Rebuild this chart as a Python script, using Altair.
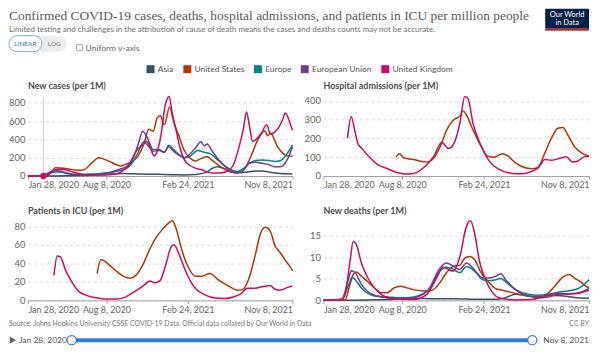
import altair as alt
import pandas as pd

SERIES = ["Asia", "United States", "Europe", "European Union", "United Kingdom"]
COLORS = ["#3c4e66", "#b13507", "#00847e", "#6d3e91", "#cf0a66"]

# ---------------- New cases (per 1M) ----------------
cases_asia_d = ["2020-01-28","2020-02-10","2020-03-01","2020-04-01","2020-05-01","2020-06-01","2020-07-01","2020-08-01","2020-09-15","2020-10-15","2020-11-15","2020-12-15","2021-01-15","2021-02-15","2021-03-15","2021-04-10","2021-04-25","2021-05-08","2021-05-25","2021-06-10","2021-07-01","2021-07-20","2021-08-10","2021-08-25","2021-09-10","2021-10-01","2021-10-20","2021-11-08"]
cases_asia_v = [0.2,0.5,0.3,1,2.5,5,10,16,28,24,20,18,15,12,17,40,85,102,80,45,35,45,55,55,45,30,24,22]

cases_us_d = ["2020-01-28","2020-03-01","2020-03-15","2020-03-25","2020-04-05","2020-04-15","2020-04-25","2020-05-10","2020-05-25","2020-06-08","2020-06-20","2020-07-01","2020-07-12","2020-07-20","2020-08-01","2020-08-15","2020-09-01","2020-09-12","2020-09-25","2020-10-10","2020-10-25","2020-11-08","2020-11-20","2020-12-01","2020-12-10","2020-12-18","2020-12-28","2021-01-10","2021-01-20","2021-02-01","2021-02-14","2021-02-28","2021-03-15","2021-03-28","2021-04-12","2021-04-25","2021-05-10","2021-05-25","2021-06-10","2021-06-22","2021-07-05","2021-07-20","2021-08-01","2021-08-15","2021-09-01","2021-09-08","2021-09-15","2021-10-01","2021-10-15","2021-10-25","2021-11-08"]
cases_us_v = [0,0,5,40,90,88,85,75,66,62,85,135,180,200,185,160,125,110,130,155,220,350,510,490,630,660,560,755,590,450,290,200,165,190,210,170,120,75,43,35,45,130,250,400,495,440,470,330,250,220,215]

cases_eur_d = ["2020-01-28","2020-02-25","2020-03-10","2020-03-25","2020-04-05","2020-04-20","2020-05-05","2020-05-25","2020-06-15","2020-07-01","2020-07-20","2020-08-10","2020-08-25","2020-09-10","2020-09-25","2020-10-10","2020-10-25","2020-11-07","2020-11-20","2020-12-01","2020-12-15","2020-12-28","2021-01-08","2021-01-20","2021-02-01","2021-02-15","2021-03-01","2021-03-20","2021-04-05","2021-04-20","2021-05-05","2021-05-20","2021-06-05","2021-06-25","2021-07-10","2021-07-25","2021-08-10","2021-08-25","2021-09-10","2021-09-25","2021-10-10","2021-10-25","2021-11-08"]
cases_eur_v = [0,0.5,5,35,45,40,25,18,20,22,25,35,45,60,80,140,260,375,320,270,280,260,335,290,240,200,215,280,260,245,190,130,80,50,80,140,170,175,170,160,170,240,340]

cases_eu_d = ["2020-01-28","2020-03-05","2020-03-20","2020-04-01","2020-04-15","2020-05-01","2020-05-20","2020-06-15","2020-07-10","2020-07-25","2020-08-10","2020-08-25","2020-09-10","2020-09-25","2020-10-10","2020-10-25","2020-11-05","2020-11-15","2020-12-01","2020-12-15","2020-12-28","2021-01-08","2021-01-20","2021-02-01","2021-02-15","2021-03-01","2021-03-15","2021-03-28","2021-04-05","2021-04-12","2021-04-25","2021-05-10","2021-05-25","2021-06-10","2021-06-25","2021-07-10","2021-07-25","2021-08-10","2021-08-25","2021-09-10","2021-09-25","2021-10-10","2021-10-25","2021-11-08"]
cases_eu_v = [0,2,40,60,55,35,18,10,12,20,35,50,75,100,170,350,490,430,290,290,260,320,270,230,200,240,310,375,330,350,270,180,110,55,35,60,140,150,140,125,100,100,170,320]

cases_uk_d = ["2020-01-28","2020-03-01","2020-03-15","2020-03-28","2020-04-10","2020-04-25","2020-05-10","2020-05-25","2020-06-10","2020-06-25","2020-07-15","2020-08-01","2020-08-15","2020-09-01","2020-09-15","2020-09-30","2020-10-15","2020-10-25","2020-11-05","2020-11-14","2020-11-22","2020-12-03","2020-12-12","2020-12-20","2020-12-30","2021-01-09","2021-01-16","2021-01-25","2021-02-05","2021-02-15","2021-03-01","2021-03-15","2021-04-01","2021-04-15","2021-05-01","2021-05-15","2021-06-01","2021-06-15","2021-07-01","2021-07-10","2021-07-18","2021-07-25","2021-08-02","2021-08-15","2021-08-25","2021-09-05","2021-09-15","2021-09-25","2021-10-05","2021-10-15","2021-10-21","2021-10-28","2021-11-03","2021-11-08"]
cases_uk_v = [0,0.2,6,50,75,70,55,35,18,12,10,11,15,22,50,110,230,300,340,380,330,220,290,450,770,870,700,520,300,180,115,85,65,40,32,34,55,115,340,510,700,550,380,420,480,560,460,480,530,620,690,640,560,500]

# ---------------- Hospital admissions (per 1M) ----------------
hosp_us_d = ["2020-07-24","2020-08-01","2020-08-12","2020-09-05","2020-09-21","2020-10-07","2020-10-24","2020-11-09","2020-11-25","2020-12-11","2020-12-27","2021-01-04","2021-01-12","2021-01-28","2021-02-17","2021-03-05","2021-03-21","2021-04-10","2021-04-22","2021-05-12","2021-06-05","2021-06-25","2021-07-07","2021-07-23","2021-08-08","2021-08-24","2021-09-05","2021-09-17","2021-10-03","2021-10-19","2021-11-08"]
hosp_us_v = [102,119,96,88,79,74,96,158,246,298,319,347,325,246,158,105,100,119,109,70,44,39,49,123,202,254,258,219,158,126,105]

hosp_uk_d = ["2020-03-27","2020-04-05","2020-04-14","2020-04-22","2020-04-30","2020-05-16","2020-06-09","2020-07-03","2020-07-27","2020-08-12","2020-09-05","2020-09-29","2020-10-24","2020-11-13","2020-11-29","2020-12-11","2020-12-27","2021-01-08","2021-01-16","2021-01-28","2021-02-17","2021-03-09","2021-04-02","2021-05-04","2021-05-28","2021-06-21","2021-07-07","2021-07-23","2021-08-08","2021-09-01","2021-09-13","2021-09-29","2021-10-11","2021-10-27","2021-11-08"]
hosp_uk_v = [202,316,240,170,150,109,61,39,18,11,14,44,105,180,146,167,281,424,412,281,161,79,35,14,12,25,44,88,84,96,102,75,79,102,105]

# ---------------- Patients in ICU (per 1M) ----------------
icu_us_d = ["2020-07-16","2020-07-25","2020-08-02","2020-08-18","2020-09-03","2020-09-19","2020-10-05","2020-10-21","2020-11-06","2020-11-22","2020-12-08","2020-12-24","2021-01-09","2021-01-17","2021-01-25","2021-02-10","2021-02-26","2021-03-14","2021-03-30","2021-04-19","2021-05-09","2021-06-02","2021-06-26","2021-07-08","2021-07-24","2021-08-09","2021-08-21","2021-09-02","2021-09-14","2021-09-26","2021-10-08","2021-10-20","2021-11-01","2021-11-08"]
icu_us_v = [29,44,43,37,31,26,24,28,39,55,68,77,84,86,79,53,35,26,26,29,22.5,16,11,11.6,24,50,72,79,75,59,52,44,37,32]

icu_uk_d = ["2020-04-01","2020-04-09","2020-04-17","2020-04-29","2020-05-15","2020-05-31","2020-06-16","2020-07-10","2020-08-03","2020-09-04","2020-09-20","2020-10-14","2020-11-07","2020-11-23","2020-12-05","2020-12-17","2021-01-01","2021-01-13","2021-01-21","2021-02-02","2021-02-22","2021-03-14","2021-04-07","2021-05-01","2021-05-25","2021-06-18","2021-07-04","2021-07-20","2021-08-05","2021-08-29","2021-09-14","2021-09-26","2021-10-08","2021-10-24","2021-11-07"]
icu_uk_v = [27,48,47,33,20,10,6,3,1.5,1.5,3,9,16,21,19,21,39,57,60,50,28,13,6,2.5,2,4,7,13,13,15,16,12,11,13.5,15.6]

# ---------------- New deaths (per 1M) ----------------
deaths_asia_d = ["2020-01-28","2020-03-01","2020-04-01","2020-05-01","2020-06-01","2020-07-01","2020-08-01","2020-09-15","2020-10-15","2020-11-15","2020-12-15","2021-01-15","2021-02-15","2021-03-15","2021-04-10","2021-04-25","2021-05-12","2021-05-28","2021-06-15","2021-07-05","2021-07-25","2021-08-15","2021-09-01","2021-09-20","2021-10-10","2021-11-08"]
deaths_asia_v = [0.01,0.02,0.05,0.08,0.15,0.2,0.35,0.45,0.4,0.35,0.35,0.3,0.25,0.25,0.4,0.9,1.4,1.3,1.0,0.9,1.0,1.15,1.1,0.85,0.6,0.5]

deaths_us_d = ["2020-01-28","2020-03-21","2020-04-02","2020-04-10","2020-04-18","2020-04-30","2020-05-16","2020-06-01","2020-06-17","2020-07-03","2020-07-19","2020-08-04","2020-08-20","2020-09-05","2020-09-29","2020-10-19","2020-11-08","2020-11-24","2020-12-11","2020-12-27","2021-01-08","2021-01-20","2021-02-01","2021-02-17","2021-03-05","2021-03-25","2021-04-18","2021-05-12","2021-06-13","2021-07-07","2021-07-27","2021-08-16","2021-09-05","2021-09-21","2021-10-03","2021-10-19","2021-10-31","2021-11-08"]
deaths_us_v = [0,0.1,3.7,6,6.6,5.6,4.3,2.9,1.8,1.8,2.9,3.3,2.9,2.5,2.2,2.3,4.1,6.4,7.9,8.2,9.8,10.2,9.5,6.4,4.5,2.7,2.2,1.6,1.0,0.8,1.4,3.3,5.4,6.0,5.2,4.3,3.3,2.9]

deaths_eur_d = ["2020-01-28","2020-03-13","2020-03-30","2020-04-07","2020-04-15","2020-04-30","2020-05-16","2020-06-01","2020-07-03","2020-08-04","2020-09-05","2020-09-29","2020-10-15","2020-10-26","2020-11-08","2020-11-24","2020-12-11","2020-12-27","2021-01-12","2021-01-24","2021-02-05","2021-02-21","2021-03-09","2021-03-25","2021-04-06","2021-04-18","2021-05-12","2021-06-13","2021-07-07","2021-07-31","2021-08-24","2021-09-17","2021-10-11","2021-10-27","2021-11-08"]
deaths_eur_v = [0,0.2,3.7,5.4,4.8,2.9,1.6,1.0,0.8,0.6,0.8,1.6,2.8,4.8,6.8,7.7,7.2,6.4,7.9,7.4,6.4,4.8,4.6,4.8,5.1,4.3,2.5,1.4,1.2,1.4,1.9,2.2,2.7,3.7,4.8]

deaths_eu_d = ["2020-01-28","2020-03-13","2020-03-30","2020-04-05","2020-04-15","2020-04-30","2020-05-16","2020-06-01","2020-07-03","2020-08-04","2020-09-05","2020-09-29","2020-10-15","2020-10-26","2020-11-08","2020-11-24","2020-12-11","2020-12-27","2021-01-12","2021-01-24","2021-02-05","2021-02-21","2021-03-09","2021-03-25","2021-04-06","2021-04-18","2021-05-12","2021-06-13","2021-07-07","2021-07-31","2021-08-24","2021-09-17","2021-10-11","2021-10-27","2021-11-08"]
deaths_eu_v = [0,0.3,5.2,6.9,6.4,3.7,2.0,1.2,0.6,0.4,0.6,1.5,3.0,5.2,7.4,8.7,7.9,7.2,8.7,7.9,6.6,5.2,5.2,5.6,6.2,4.8,2.5,1.0,0.6,0.8,1.4,1.5,1.7,2.2,2.8]

deaths_uk_d = ["2020-01-28","2020-03-13","2020-03-21","2020-04-02","2020-04-10","2020-04-18","2020-04-30","2020-05-16","2020-06-01","2020-06-17","2020-07-11","2020-09-05","2020-10-07","2020-10-31","2020-11-16","2020-11-28","2020-12-11","2020-12-27","2021-01-12","2021-01-22","2021-02-01","2021-02-13","2021-03-01","2021-03-17","2021-04-02","2021-05-12","2021-06-21","2021-07-15","2021-08-08","2021-09-01","2021-09-21","2021-10-11","2021-10-27","2021-11-08"]
deaths_uk_v = [0,0.1,1.4,9,13.7,12.9,8.7,5.2,2.9,1.4,0.5,0.2,1.4,5.2,7.7,7.2,6.8,10.2,17.2,18.5,15.6,9.1,4.5,1.8,0.6,0.1,0.2,0.8,1.4,1.6,1.5,1.6,2.0,2.3]

# hover marker seen in the first panel
hover_date = ["2020-03-06"]
hover_value = [0]

PANEL_TITLES = ["New cases (per 1M)", "Hospital admissions (per 1M)",
                "Patients in ICU (per 1M)", "New deaths (per 1M)"]
Y_TICKS = [[0, 200, 400, 600, 800], [0, 100, 200, 300, 400],
           [0, 20, 40, 60, 80], [0, 5, 10, 15]]


def tidy(items):
    rows = []
    for name, d, v in items:
        if len(d) != len(v):
            raise ValueError(name)
        for a, b in zip(d, v):
            rows.append({"series": name, "date": a, "value": b})
    return pd.DataFrame(rows)


cases_df = tidy([("Asia", cases_asia_d, cases_asia_v),
                 ("United States", cases_us_d, cases_us_v),
                 ("Europe", cases_eur_d, cases_eur_v),
                 ("European Union", cases_eu_d, cases_eu_v),
                 ("United Kingdom", cases_uk_d, cases_uk_v)])
hosp_df = tidy([("United States", hosp_us_d, hosp_us_v),
                ("United Kingdom", hosp_uk_d, hosp_uk_v)])
icu_df = tidy([("United States", icu_us_d, icu_us_v),
               ("United Kingdom", icu_uk_d, icu_uk_v)])
deaths_df = tidy([("Asia", deaths_asia_d, deaths_asia_v),
                  ("United States", deaths_us_d, deaths_us_v),
                  ("Europe", deaths_eur_d, deaths_eur_v),
                  ("European Union", deaths_eu_d, deaths_eu_v),
                  ("United Kingdom", deaths_uk_d, deaths_uk_v)])

D0 = alt.DateTime(year=2020, month=1, date=28, utc=True)
D1 = alt.DateTime(year=2021, month=11, date=8, utc=True)
X_TICKS = [D0, alt.DateTime(year=2020, month=8, date=8, utc=True),
           alt.DateTime(year=2021, month=2, date=24, utc=True), D1]

FONT = "Lato"
W1, W2, H = 266, 267, 80

LEGEND = alt.Legend(
    orient="none", legendX=119, legendY=-32, direction="horizontal", columns=5,
    title=None, symbolType="square", symbolSize=4, symbolStrokeWidth=6,
    labelFontSize=8.5, labelColor="#555555", labelFont=FONT, columnPadding=0,
    labelOffset=3, symbolOpacity=1,
)


def x_enc():
    return alt.X("date:T", title=None,
                 scale=alt.Scale(type="utc", domain=[D0, D1]),
                 axis=alt.Axis(values=X_TICKS,
                               labelExpr="utcFormat(datum.value, '%b %-d, %Y')",
                               grid=False, domainColor="#a0a0a0", tickColor="#a0a0a0",
                               tickSize=3, labelPadding=2, labelFontSize=9,
                               labelColor="#666666", labelFont=FONT,
                               labelOverlap=False, labelFlush=True))


def y_enc(ticks):
    return alt.Y("value:Q", title=None, scale=alt.Scale(nice=False, zero=True),
                 axis=alt.Axis(values=ticks, grid=True, gridDash=[3, 3],
                               gridColor="#dcdcdc", domain=False, ticks=False,
                               labelPadding=3, labelFontSize=9.5,
                               labelColor="#666666", labelFont=FONT))


def txt(s, x, y, **kw):
    return alt.Chart(pd.DataFrame({"t": [s]})).mark_text(**kw).encode(
        x=alt.value(x), y=alt.value(y), text="t:N")


def box(x, x2, y, y2, **kw):
    return alt.Chart(pd.DataFrame({"k": [0]})).mark_rect(**kw).encode(
        x=alt.value(x), x2=alt.value(x2), y=alt.value(y), y2=alt.value(y2))


def lines(df, ticks):
    return alt.Chart(df).mark_line(strokeWidth=1.5, interpolate="monotone").encode(
        x=x_enc(), y=y_enc(ticks),
        color=alt.Color("series:N", scale=alt.Scale(domain=SERIES, range=COLORS),
                        legend=LEGEND))


def ptitle(s):
    return txt(s, 0, -7, align="left", baseline="alphabetic", fontSize=9,
               fontWeight="bold", font=FONT, color="#4d4d4d")


# ---- header decorations (placed relative to first panel) ----
header = [
    txt("Confirmed COVID-19 cases, deaths, hospital admissions, and patients in ICU per million people",
        -19, -77, align="left", baseline="alphabetic", fontSize=13.5,
        font="Liberation Serif", color="#5b5b5b"),
    txt("Limited testing and challenges in the attribution of cause of death means the cases and deaths counts may not be accurate.",
        -19, -65, align="left", baseline="alphabetic", fontSize=8, font=FONT, color="#6e6e6e"),
    box(-19, 39, -61, -45, color="#ececec", cornerRadius=8),
    box(-19, 14, -61, -45, color="#ffffff", stroke="#7fa9d8", strokeWidth=1, cornerRadius=8),
    txt("LINEAR", -2.5, -53, align="center", baseline="middle", fontSize=6.5, font=FONT, color="#3a6ea5"),
    txt("LOG", 26.5, -53, align="center", baseline="middle", fontSize=6.5, font=FONT, color="#7a7a7a"),
    box(49, 55, -52, -46, color="#ffffff", stroke="#888888", strokeWidth=0.8, cornerRadius=1),
    txt("Uniform y-axis", 58, -49, align="left", baseline="middle", fontSize=8.5, font=FONT, color="#666666"),
    box(520, 564, -88, -68, color="#002147"),
    box(520, 564, -68, -66, color="#ce261e"),
    txt("Our World", 542, -81.5, align="center", baseline="middle", fontSize=7.5, font=FONT, color="#ffffff"),
    txt("in Data", 542, -73.5, align="center", baseline="middle", fontSize=7.5, font=FONT, color="#ffffff"),
]

hover = pd.DataFrame({"date": hover_date, "value": hover_value})
rule = alt.Chart(hover).mark_rule(color="#d0d0d0", strokeWidth=1).encode(x=x_enc())
dot = alt.Chart(hover).mark_circle(size=40, color=COLORS[4], opacity=1).encode(
    x=x_enc(), y=y_enc(Y_TICKS[0]))

p1 = alt.layer(rule, lines(cases_df, Y_TICKS[0]), dot, ptitle(PANEL_TITLES[0]), *header
               ).properties(width=W1, height=H)
p2 = alt.layer(lines(hosp_df, Y_TICKS[1]), ptitle(PANEL_TITLES[1])
               ).properties(width=W2, height=H)

# ---- footer decorations (relative to third panel) ----
BLUE = "#2d7bd8"
footer = [
    txt("Source: Johns Hopkins University CSSE COVID-19 Data, Official data collated by Our World in Data",
        -19, 104, align="left", baseline="middle", fontSize=7, font=FONT, color="#777777"),
    txt("CC BY", 564, 104, align="right", baseline="middle", fontSize=7, font=FONT, color="#777777"),
    alt.Chart(pd.DataFrame({"k": [0]})).mark_point(shape="triangle-right", filled=True, size=55,
                                                    color="#666666", opacity=1).encode(
        x=alt.value(-15), y=alt.value(120)),
    txt("Jan 28, 2020", -9, 120, align="left", baseline="middle", fontSize=8.5, font=FONT, color="#555555"),
    box(44, 507, 118, 122, color=BLUE),
    alt.Chart(pd.DataFrame({"k": [0, 1], "px": [44, 507]})).mark_circle(
        size=85, fill="#ffffff", stroke=BLUE, strokeWidth=1.2, opacity=1).encode(
        x=alt.X("px:Q", scale=None), y=alt.value(120)),
    txt("Nov 8, 2021", 564, 120, align="right", baseline="middle", fontSize=8.5, font=FONT, color="#555555"),
]

p3 = alt.layer(lines(icu_df, Y_TICKS[2]), ptitle(PANEL_TITLES[2]), *footer
               ).properties(width=W1, height=H)
p4 = alt.layer(lines(deaths_df, Y_TICKS[3]), ptitle(PANEL_TITLES[3])
               ).properties(width=W2, height=H)

chart = alt.concat(p1, p2, p3, p4, columns=2, spacing={"row": 45, "column": 31},
                   bounds="flush").properties(padding=0).configure(
    font=FONT).configure_view(stroke=None)

chart.save("out.html", embed_options={"renderer": "svg", "actions": False})
